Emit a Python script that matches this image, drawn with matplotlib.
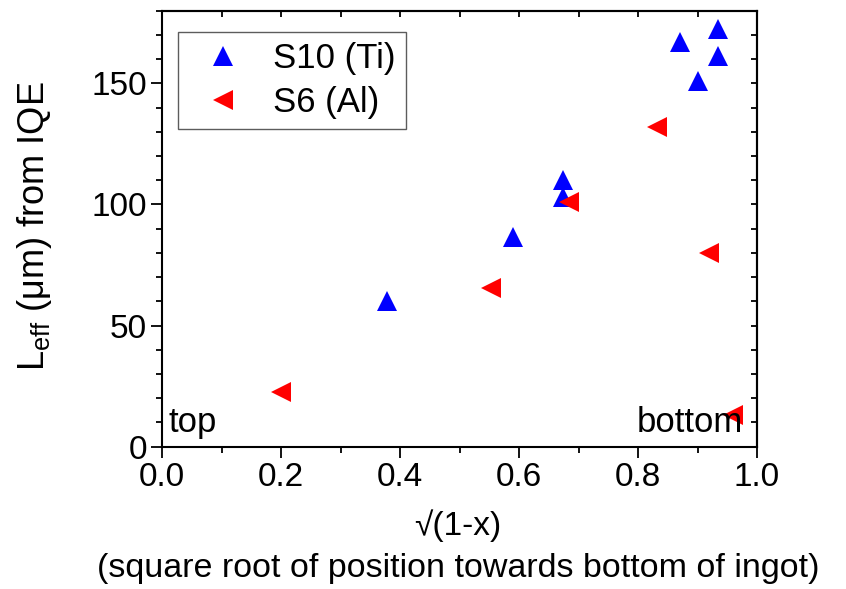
import matplotlib
matplotlib.use("Agg")
import matplotlib.pyplot as plt
from matplotlib.ticker import MultipleLocator, NullFormatter, FormatStrFormatter

plt.rcParams['font.family'] = ['Liberation Sans', 'DejaVu Sans']
plt.rcParams['mathtext.default'] = 'regular'

# S10 (Ti) samples
s10_x = [0.378, 0.590, 0.673, 0.673, 0.870, 0.900, 0.934, 0.934]
s10_y = [60, 86.5, 110, 103, 167, 151, 172.5, 161.5]

# S6 (Al) samples
s6_x = [0.199, 0.552, 0.684, 0.832, 0.920, 0.959]
s6_y = [22.5, 65.5, 101, 132, 80, 13]

W, H = 846, 589
fig = plt.figure(figsize=(W / 100, H / 100), dpi=100)
ax = fig.add_axes([162.3 / W, 1 - 446.7 / H, (757 - 162.3) / W, (446.7 - 10.7) / H])

ax.plot(s10_x, s10_y, linestyle='none', marker='^', markersize=14,
        color='#0000ff', markeredgewidth=0, label='S10 (Ti)')
ax.plot(s6_x, s6_y, linestyle='none', marker='<', markersize=14,
        color='#ff0000', markeredgewidth=0, label='S6 (Al)')

ax.set_xlim(0, 1.0)
ax.set_ylim(0, 180)
ax.xaxis.set_major_locator(MultipleLocator(0.2))
ax.xaxis.set_minor_locator(MultipleLocator(0.1))
ax.yaxis.set_major_locator(MultipleLocator(50))
ax.yaxis.set_minor_locator(MultipleLocator(10))
ax.xaxis.set_major_formatter(FormatStrFormatter('%.1f'))

for s in ax.spines.values():
    s.set_linewidth(1.5)

ax.tick_params(which='major', direction='out', length=8, width=1.3,
               labelsize=24, pad=3)
ax.tick_params(which='minor', direction='out', length=4.5, width=1.3)

# mirrored inward ticks on top and right
top = ax.secondary_xaxis('top')
top.xaxis.set_major_locator(MultipleLocator(0.1))
top.xaxis.set_major_formatter(NullFormatter())
top.tick_params(direction='in', length=4.5, width=1.3)
top.spines['top'].set_linewidth(1.5)
right = ax.secondary_yaxis('right')
right.yaxis.set_major_locator(MultipleLocator(10))
right.yaxis.set_major_formatter(NullFormatter())
right.tick_params(direction='in', length=4.5, width=1.3)
right.spines['right'].set_linewidth(1.5)

fig.text(35 / W, 1 - 226.5 / H, 'L$_{eff}$ (\u03bcm) from IQE', rotation=90,
         ha='center', va='center', fontsize=26)
fig.text(458 / W, 1 - 526 / H, '\u221a(1-x)', ha='center', va='center',
         fontsize=24)
fig.text(458 / W, 1 - 569 / H, '(square root of position towards bottom of ingot)',
         ha='center', va='center', fontsize=24.5)

ax.text(0.0096, 0.034, 'top', transform=ax.transAxes, fontsize=25,
        ha='left', va='baseline')
ax.text(0.976, 0.034, 'bottom', transform=ax.transAxes, fontsize=25,
        ha='right', va='baseline')

leg = ax.legend(loc='upper left', bbox_to_anchor=((178 - 162.3) / 595, 1 - (32 - 10.7) / 436),
                fontsize=25, frameon=True, fancybox=False, edgecolor='#333333',
                handletextpad=0.45, borderpad=0.3, labelspacing=0.3,
                handlelength=2.0, borderaxespad=0)
leg.get_frame().set_linewidth(1.0)

fig.savefig('out.png', dpi=100)
